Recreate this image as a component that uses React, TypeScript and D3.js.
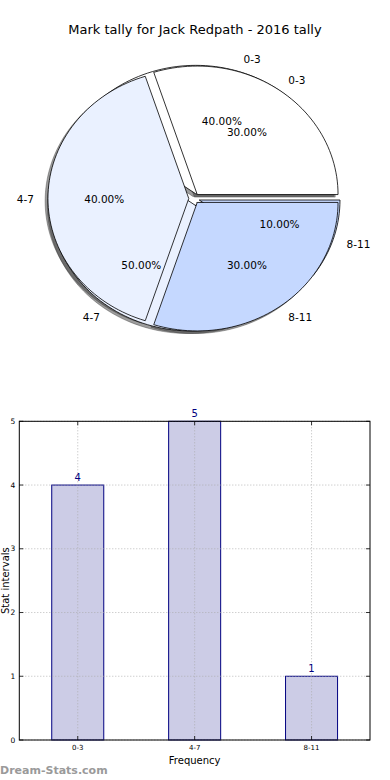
import React from "react";
import * as d3 from "d3";

const categories = ["0-3", "4-7", "8-11"];
const pieBottomPct = [40, 50, 10];
const pieTopPct = [30, 40, 30];
const barValues = [4, 5, 1];
const yTicks = [0, 1, 2, 3, 4, 5];
const sliceColors = ["#ffffff", "#eaf1ff", "#c5d8ff"];

const W = 390;
const H = 780;
const FONT = "DejaVu Sans, sans-serif";

// pie geometry (data units: radius 1)
const cx = 194.1;
const cy = 198.5;
const sx = 140.8;
const sy = 128.5;
const explode = 0.038;

function wedgePath(a0: number, a1: number, ox: number, oy: number) {
  const pts: [number, number][] = [];
  const n = Math.max(8, Math.ceil((a1 - a0) / 2));
  const ang = d3.scaleLinear().domain([0, n]).range([a0, a1]);
  for (let i = 0; i <= n; i++) {
    const t = (ang(i) * Math.PI) / 180;
    pts.push([ox + Math.cos(t), oy + Math.sin(t)]);
  }
  const toPx = (p: [number, number]): [number, number] => [cx + p[0] * sx, cy - p[1] * sy];
  const line = d3.line();
  const all: [number, number][] = [[ox, oy], ...pts, [ox, oy]].map(toPx);
  return line(all) + "Z";
}

function sliceInfo(pct: number[]) {
  const total = d3.sum(pct);
  let start = 0;
  return pct.map((p, i) => {
    const a0 = start;
    const a1 = start + (p / total) * 360;
    start = a1;
    const mid = ((a0 + a1) / 2) * (Math.PI / 180);
    const ox = explode * Math.cos(mid);
    const oy = explode * Math.sin(mid);
    return { a0, a1, mid, ox, oy, i, p };
  });
}

function PieShadows({ pct, idx }: { pct: number[]; idx: number }) {
  return (
    <g>
      {sliceInfo(pct).map((s) => (
        <path
          key={`s${idx}-${s.i}`}
          d={wedgePath(s.a0, s.a1, s.ox - 0.02, s.oy - 0.02)}
          fill="rgba(60,60,60,0.5)"
          stroke="rgba(60,60,60,0.5)"
          strokeWidth={0.8}
        />
      ))}
    </g>
  );
}

function PieWedges({ pct, idx }: { pct: number[]; idx: number }) {
  return (
    <g>
      {sliceInfo(pct).map((s) => (
        <path
          key={`w${idx}-${s.i}`}
          d={wedgePath(s.a0, s.a1, s.ox, s.oy)}
          fill={sliceColors[s.i]}
          stroke="#000"
          strokeWidth={0.8}
          strokeLinejoin="round"
        />
      ))}
    </g>
  );
}

function PieLabels({ pct, idx }: { pct: number[]; idx: number }) {
  return (
    <g fontFamily={FONT} fontSize={10.5} fill="#000">
      {sliceInfo(pct).map((s) => {
        const lx = cx + (s.ox + 1.1 * Math.cos(s.mid)) * sx;
        const ly = cy - (s.oy + 1.1 * Math.sin(s.mid)) * sy;
        const px = cx + (s.ox + 0.6 * Math.cos(s.mid)) * sx;
        const py = cy - (s.oy + 0.6 * Math.sin(s.mid)) * sy;
        const anchor = Math.cos(s.mid) > 0 ? "start" : "end";
        return (
          <g key={`l${idx}-${s.i}`}>
            <text x={lx} y={ly} textAnchor={anchor} dominantBaseline="central">
              {categories[s.i]}
            </text>
            <text x={px} y={py} textAnchor="middle" dominantBaseline="central">
              {s.p.toFixed(2)}%
            </text>
          </g>
        );
      })}
    </g>
  );
}

function BarChart() {
  const left = 19.3;
  const right = 370;
  const top = 421.3;
  const bottom = 740;
  const x = d3.scaleLinear().domain([-0.5, 2.5]).range([left, right]);
  const y = d3.scaleLinear().domain([0, 5]).range([bottom, top]);
  const bw = 0.445;
  const grid = "#aaaaaa";
  return (
    <g fontFamily={FONT}>
      {barValues.map((v, i) => (
        <rect
          key={`b${i}`}
          x={x(i - bw / 2)}
          y={y(v)}
          width={x(i + bw / 2) - x(i - bw / 2)}
          height={y(0) - y(v)}
          fill="#cccce6"
          stroke="#000080"
          strokeWidth={1}
        />
      ))}
      {yTicks.map((t) => (
        <line key={`gy${t}`} x1={left} x2={right} y1={y(t)} y2={y(t)} stroke={grid} strokeWidth={0.8} strokeDasharray="1,2" />
      ))}
      {categories.map((c, i) => (
        <line key={`gx${c}`} x1={x(i)} x2={x(i)} y1={top} y2={bottom} stroke={grid} strokeWidth={0.8} strokeDasharray="1,2" />
      ))}
      {barValues.map((v, i) => (
        <text key={`v${i}`} x={x(i)} y={y(v) - 4} textAnchor="middle" fontSize={10} fill="#000080">
          {v}
        </text>
      ))}
      <rect x={left} y={top} width={right - left} height={bottom - top} fill="none" stroke="#000" strokeWidth={1} />
      {yTicks.map((t) => (
        <g key={`ty${t}`}>
          <line x1={left} x2={left + 4} y1={y(t)} y2={y(t)} stroke="#000" strokeWidth={0.8} />
          <line x1={right - 4} x2={right} y1={y(t)} y2={y(t)} stroke="#000" strokeWidth={0.8} />
          <text x={left - 4} y={y(t)} textAnchor="end" dominantBaseline="central" fontSize={7.5} fill="#000">
            {t}
          </text>
        </g>
      ))}
      {categories.map((c, i) => (
        <g key={`tx${c}`}>
          <line x1={x(i)} x2={x(i)} y1={bottom} y2={bottom - 4} stroke="#000" strokeWidth={0.8} />
          <line x1={x(i)} x2={x(i)} y1={top} y2={top + 4} stroke="#000" strokeWidth={0.8} />
          <text x={x(i)} y={bottom + 10} textAnchor="middle" fontSize={7} fill="#000">
            {c}
          </text>
        </g>
      ))}
      <text x={(left + right) / 2} y={764} textAnchor="middle" fontSize={10} fill="#000">
        Frequency
      </text>
      <text
        transform={`translate(8.5,${(top + bottom) / 2}) rotate(-90)`}
        textAnchor="middle"
        fontSize={10}
        fill="#000"
      >
        Stat intervals
      </text>
    </g>
  );
}

export default function App() {
  return (
    <svg
      width={W}
      height={H}
      viewBox={`0 0 ${W} ${H}`}
      style={{ position: "absolute", left: 0, top: 0, background: "#fff" }}
    >
      <rect x={0} y={0} width={W} height={H} fill="#fff" />
      <text x={195} y={34} textAnchor="middle" fontFamily={FONT} fontSize={13} fill="#000">
        Mark tally for Jack Redpath - 2016 tally
      </text>
      <PieShadows pct={pieBottomPct} idx={0} />
      <PieShadows pct={pieTopPct} idx={1} />
      <PieWedges pct={pieBottomPct} idx={0} />
      <PieWedges pct={pieTopPct} idx={1} />
      <PieLabels pct={pieBottomPct} idx={0} />
      <PieLabels pct={pieTopPct} idx={1} />
      <BarChart />
      <text x={0} y={774} fontFamily={FONT} fontSize={11} fontWeight="bold" fill="#9a9a9a">
        Dream-Stats.com
      </text>
    </svg>
  );
}
